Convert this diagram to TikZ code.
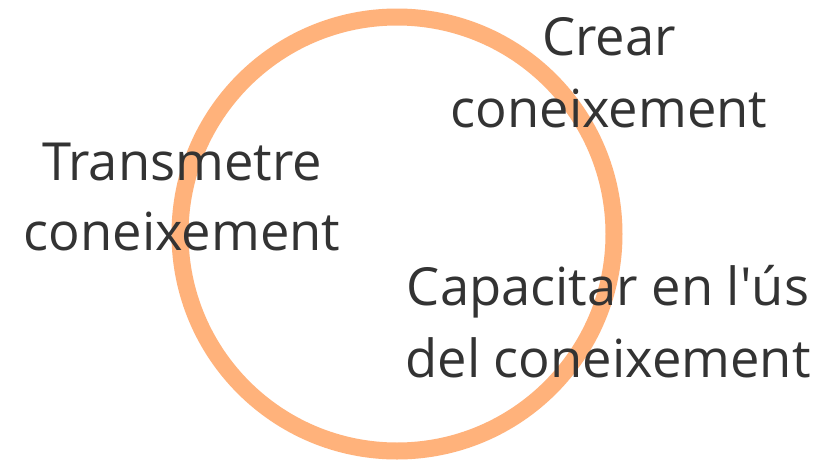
\documentclass[tikz,border=0pt]{standalone}
\usepackage{fontspec}
\setmainfont{Open Sans}
\definecolor{ringc}{HTML}{FFB27B}
\definecolor{txtc}{HTML}{333333}
\begin{document}
\begin{tikzpicture}[x=1pt,y=-1pt,
  ring/.style={draw=ringc,line width=17pt},
  lbl/.style={anchor=base,inner sep=0pt,text=txtc,font=\fontsize{52.5}{71}\selectfont}]
\useasboundingbox[fill=white] (0,0) rectangle (836,461);
\draw[ring] (397,234) circle[radius=217];
\node[lbl] (c1) at (609,55) {Crear};
\node[lbl] (c2) at (609,127) {coneixement};
\node[lbl] (t1) at (182,180) {Transmetre};
\node[lbl] (t2) at (182,250) {coneixement};
\node[lbl] (p1) at (608,305) {Capacitar en l\textquotesingle ús};
\node[lbl] (p2) at (608,377) {del coneixement};
\end{tikzpicture}
\end{document}
